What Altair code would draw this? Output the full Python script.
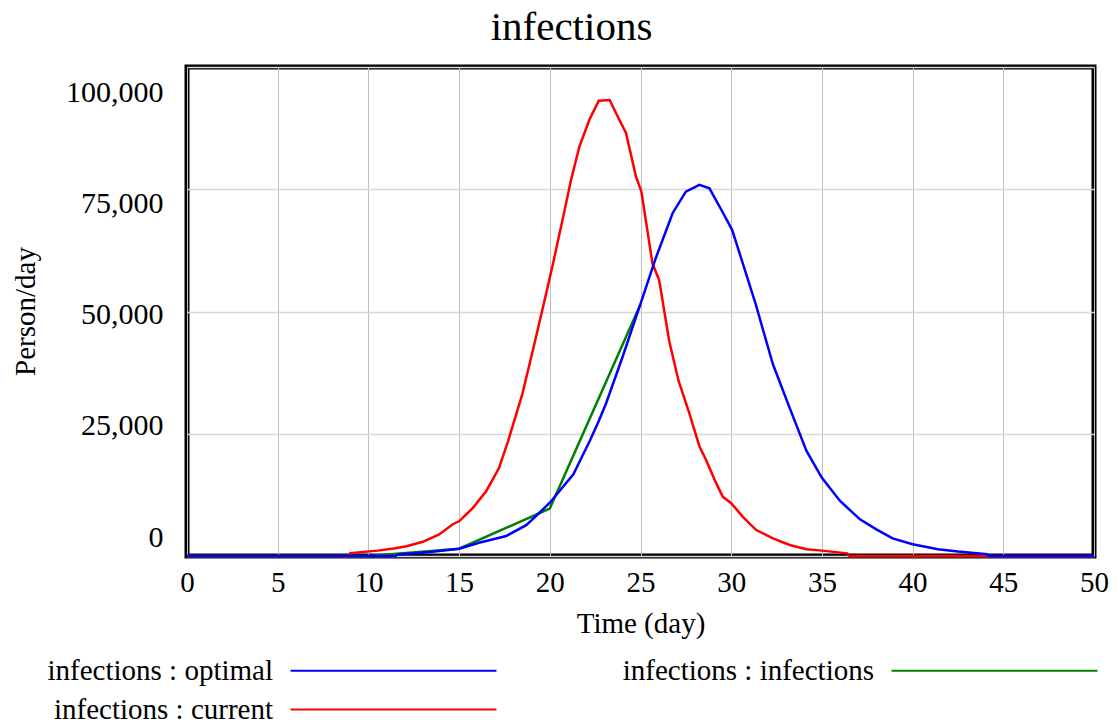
import altair as alt
import pandas as pd

# ---- data ----
current_t = [0, 8.9, 9.0, 10.5, 11.4, 12.1, 13.0, 13.9, 14.65, 15.0, 15.75, 16.5, 17.2, 17.7,
             18.5, 19.24, 19.8, 20.16, 20.7, 21.17, 21.63, 22.18, 22.7, 23.3, 23.83, 24.2,
             24.75, 25.05, 25.66, 26.03, 26.59, 27.1, 27.69, 28.25, 28.62, 29.17, 29.54, 30.0,
             30.64, 31.38, 32.3, 33.22, 34.15, 35.0, 36.4, 36.5, 50]
current_v = [0, 0, 550, 1100, 1550, 2000, 2900, 4400, 6500, 7100, 9800, 13300, 18000, 23500,
             33300, 44800, 53700, 59500, 68700, 76900, 83700, 89200, 93100, 93250, 89200, 86500,
             77600, 74500, 59800, 56400, 43800, 35800, 29200, 22400, 19600, 14900, 12100, 10800,
             8000, 5300, 3600, 2250, 1400, 1100, 550, 0, 0]

optimal_t = [0, 11.5, 11.6, 13.4, 15.0, 16.1, 17.6, 18.7, 19.43, 20.0, 21.3, 22.2, 22.7, 23.1,
             24.0, 24.93, 25.85, 26.77, 27.5, 28.25, 28.8, 29.5, 30.05, 30.6, 31.35, 32.3,
             33.2, 34.15, 35.0, 36.0, 37.1, 38.0, 38.9, 40.0, 41.4, 42.5, 44.1, 44.2, 50]
optimal_v = [0, 0, 300, 800, 1500, 2700, 4100, 6300, 8850, 10900, 16700, 23500, 27600, 31200,
             40600, 50800, 61000, 70100, 74500, 75900, 75200, 70500, 66700, 60300, 51500, 39200,
             30500, 21500, 16000, 11250, 7500, 5450, 3600, 2400, 1400, 900, 350, 0, 0]

infections_t = [0, 10.0, 15.0, 20.0, 25.0]
infections_v = [0, 0, 1500, 9700, 51500]

series_names = ["infections : optimal", "infections : infections", "infections : current"]
series_colors = ["#0000ff", "#008000", "#ff0000"]

x_ticks = [0, 5, 10, 15, 20, 25, 30, 35, 40, 45, 50]
y_ticks = [0, 25000, 50000, 75000, 100000]

rows = []
for t, v in zip(current_t, current_v):
    rows.append({"t": t, "v": v, "series": series_names[2]})
for t, v in zip(infections_t, infections_v):
    rows.append({"t": t, "v": v, "series": series_names[1]})
for t, v in zip(optimal_t, optimal_v):
    rows.append({"t": t, "v": v, "series": series_names[0]})
df = pd.DataFrame(rows)

FONT = "Liberation Serif"

color = alt.Color(
    "series:N",
    scale=alt.Scale(domain=series_names, range=series_colors),
    legend=alt.Legend(
        title=None, orient="none", legendX=191, legendY=588, columns=2,
        direction="horizontal",
        symbolType="M-7.1,0H7.1", symbolSize=841, symbolStrokeWidth=2,
        symbolFillColor="transparent",
        labelFont=FONT, labelFontSize=29, labelLimit=600, labelColor="black",
        labelAlign="right", labelOffset=alt.ExprRef(expr="-136"),
        columnPadding=121, rowPadding=8, padding=0,
    ),
)

x = alt.X("t:Q", scale=alt.Scale(domain=[0, 50], nice=False),
          axis=alt.Axis(values=x_ticks, title="Time (day)", format="d",
                        labelFont=FONT, labelFontSize=29, labelColor="black",
                        labelPadding=12, labelFlush=False, ticks=False, domain=False,
                        titleFont=FONT, titleFontSize=29, titleFontWeight="normal",
                        titleColor="black", titleBaseline="middle", titleY=67,
                        grid=True, gridColor="#c0c0c0", gridWidth=1))
y = alt.Y("v:Q", scale=alt.Scale(domain=[0, 100000], nice=False),
          axis=alt.Axis(values=y_ticks, title="Person/day", format=",d",
                        labelFont=FONT, labelFontSize=30, labelColor="black",
                        labelPadding=24, labelFlush=False, ticks=False, domain=False,
                        labelOffset=alt.ExprRef(expr="-19 + 11*datum.value/25000"),
                        titleFont=FONT, titleFontSize=29, titleFontWeight="normal",
                        titleColor="black", titleX=-162, titleY=244,
                        titleBaseline="middle", titleAlign="center",
                        grid=True, gridColor="#d8d8d8", gridWidth=1.5))

def layer(name):
    return alt.Chart(df).transform_filter(alt.datum.series == name).mark_line(
        strokeWidth=2.5, interpolate="linear"
    ).encode(x=x, y=y, color=color, order="t:Q")

chart = alt.layer(layer(series_names[2]), layer(series_names[1]), layer(series_names[0])).properties(
    width=907, height=489,
    title=alt.TitleParams("infections", font=FONT, fontSize=41, fontWeight="normal",
                          color="black", anchor="middle", dx=-69, offset=18),
    autosize=alt.AutoSizeParams(type="none"),
    padding={"left": 179, "top": 59, "right": 16, "bottom": 170},
    background="white",
).configure_view(stroke="black", strokeWidth=5)

chart.save("out.html", embed_options={"renderer": "svg", "actions": False})
